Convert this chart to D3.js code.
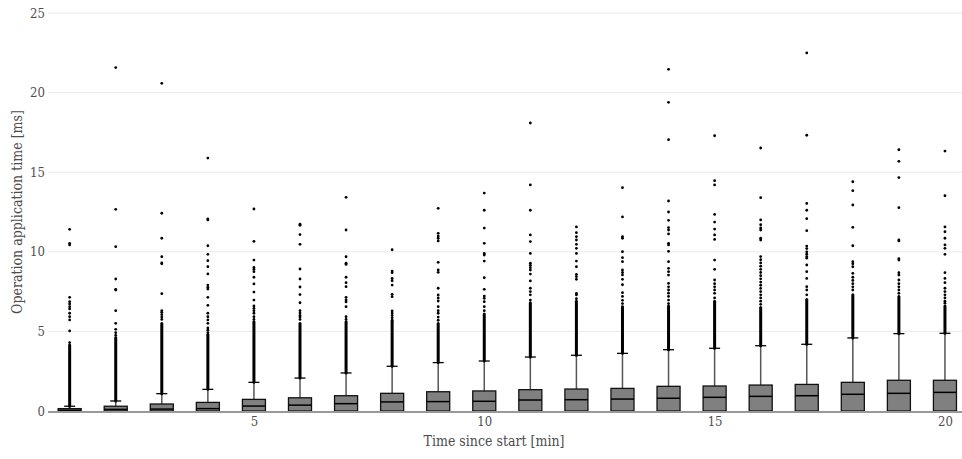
<!DOCTYPE html>
<html>
<head>
<meta charset="utf-8">
<script src="https://cdn.jsdelivr.net/npm/d3@7"></script>
<style>
  body { margin: 0; background: #fff; }
  svg text { font-family: "DejaVu Serif Condensed", "DejaVu Serif", serif; }
</style>
</head>
<body>
<svg id="chart"></svg>
<script>
// minutes since start, one box per minute
const minutes = [1, 2, 3, 4, 5, 6, 7, 8, 9, 10, 11, 12, 13, 14, 15, 16, 17, 18, 19, 20];
const lowerQuartile = [0, 0, 0, 0, 0, 0, 0, 0, 0, 0, 0, 0, 0, 0, 0, 0, 0, 0, 0, 0];
const medians = [0.05, 0.1, 0.12, 0.15, 0.31, 0.37, 0.46, 0.57, 0.59, 0.61, 0.69, 0.71, 0.75, 0.8, 0.86, 0.92, 0.96, 1.05, 1.11, 1.17];
const upperQuartile = [0.15, 0.3, 0.44, 0.54, 0.73, 0.83, 0.96, 1.11, 1.21, 1.26, 1.34, 1.38, 1.42, 1.55, 1.57, 1.63, 1.67, 1.8, 1.93, 1.93];
const upperWhisker = [0.3, 0.63, 1.09, 1.36, 1.8, 2.07, 2.39, 2.81, 3.04, 3.14, 3.39, 3.5, 3.62, 3.85, 3.94, 4.1, 4.19, 4.59, 4.86, 4.88];
// top of the solid run of overlapping outlier dots above each whisker
const denseOutlierTop = [4.15, 4.6, 5.5, 4.8, 5.6, 5.5, 5.6, 5.7, 5.5, 6.1, 6.8, 6.9, 6.5, 6.6, 6.9, 6.5, 7.0, 7.3, 7.2, 6.6];
// separate outliers above the solid run
const outliers = [
  [11.41, 10.53, 10.43, 7.14, 6.87, 6.72, 6.55, 6.41, 6.14, 5.92, 5.72, 5.03, 4.3],
  [21.57, 12.67, 10.32, 8.29, 7.64, 7.6, 6.3, 5.51, 5.13, 4.92, 4.75],
  [20.58, 12.42, 10.85, 9.69, 9.3, 9.25, 7.37, 6.3, 6.2, 6.05, 5.9, 5.75],
  [15.89, 12.06, 12.0, 10.38, 9.84, 9.44, 9.06, 8.61, 7.91, 7.77, 7.66, 7.14, 6.64, 6.14, 5.92, 5.72, 5.51, 5.22, 5.08, 4.92],
  [12.69, 10.66, 9.48, 9.02, 8.9, 8.75, 8.4, 7.98, 7.47, 6.97, 6.6, 6.45, 6.3, 6.14, 5.92, 5.75],
  [11.73, 11.66, 11.08, 10.47, 8.92, 8.29, 7.79, 7.31, 6.8, 6.3, 6.15, 6.0, 5.9, 5.75],
  [13.42, 11.37, 9.69, 9.28, 9.21, 8.4, 8.06, 7.81, 7.14, 6.98, 6.85, 6.55, 5.92, 5.75],
  [10.13, 8.79, 8.69, 8.33, 8.18, 7.91, 7.33, 7.18, 6.28, 6.15, 6.0, 5.85],
  [12.73, 11.16, 10.99, 10.85, 10.68, 9.34, 8.86, 8.71, 7.71, 7.29, 7.1, 6.91, 6.55, 6.3, 6.14, 5.9, 5.7],
  [13.69, 12.61, 11.49, 10.53, 9.9, 9.8, 9.42, 8.37, 7.64, 7.22, 7.08, 6.87, 6.55, 6.3],
  [18.09, 14.2, 12.61, 11.06, 10.64, 9.9, 9.28, 9.15, 9.0, 8.85, 8.6, 8.17, 7.71, 7.5, 7.3, 6.97],
  [11.56, 11.2, 10.95, 10.74, 10.47, 10.22, 9.9, 9.42, 9.06, 8.58, 8.44, 8.27, 7.39, 7.29, 7.05],
  [14.03, 12.19, 10.95, 10.85, 10.01, 9.63, 9.38, 8.86, 8.7, 8.55, 8.27, 7.93, 7.43, 7.2, 6.95, 6.75, 6.55],
  [21.46, 19.39, 17.04, 13.19, 12.5, 11.98, 11.52, 11.37, 11.12, 10.53, 10.43, 10.03, 9.38, 8.96, 8.75, 8.54, 8.02, 7.8, 7.6, 7.4, 7.2, 6.97, 6.75],
  [17.29, 14.47, 14.2, 12.35, 11.87, 11.43, 11.06, 10.78, 9.48, 8.9, 8.23, 8.0, 7.8, 7.6, 7.39, 7.1],
  [16.52, 13.4, 12.0, 11.7, 11.5, 11.37, 10.85, 10.74, 9.7, 9.5, 9.3, 9.1, 8.9, 8.7, 8.5, 8.3, 8.1, 7.9, 7.7, 7.5, 7.3, 7.1, 6.9, 6.7],
  [22.49, 17.32, 13.04, 12.61, 12.08, 11.33, 10.36, 10.2, 10.0, 9.85, 9.7, 9.6, 9.17, 8.75, 8.33, 7.81, 7.6, 7.3],
  [14.4, 13.84, 12.94, 11.54, 10.38, 9.38, 9.25, 9.06, 8.65, 8.4, 8.2, 8.0, 7.8, 7.6],
  [16.41, 15.68, 14.66, 12.77, 10.74, 10.68, 9.57, 9.48, 8.69, 8.54, 8.23, 8.0, 7.8, 7.6, 7.39],
  [16.33, 13.52, 11.56, 11.26, 10.85, 10.43, 10.22, 9.84, 8.69, 8.33, 8.06, 7.71, 7.5, 7.3, 7.1, 6.9, 6.77]
];
const xTicks = [5, 10, 15, 20];
const yTicks = [0, 5, 10, 15, 20, 25];

const width = 962, height = 459;
const margin = {top: 13, right: 0, bottom: 48, left: 48};

const svg = d3.select("#chart")
  .attr("width", width)
  .attr("height", height);

const x = d3.scaleLinear().domain([0.53, 20.37]).range([margin.left, width - margin.right]);
const y = d3.scaleLinear().domain([0, 25]).range([height - margin.bottom, margin.top]);

const boxWidth = x(1.5) - x(1);
const capWidth = 11;

// grid lines
svg.append("g")
  .selectAll("line")
  .data(yTicks.filter(d => d > 0))
  .join("line")
  .attr("x1", margin.left)
  .attr("x2", width - margin.right)
  .attr("y1", d => y(d))
  .attr("y2", d => y(d))
  .attr("stroke", "#ebebeb")
  .attr("stroke-width", 1);

// y axis labels
svg.append("g")
  .call(d3.axisLeft(y).tickValues(yTicks).tickSize(0).tickPadding(3))
  .attr("transform", "translate(" + margin.left + ",0)")
  .call(g => g.select(".domain").remove())
  .selectAll("text")
  .attr("fill", "#4d4d4d")
  .style("font-size", "13px");

// x axis labels
svg.append("g")
  .attr("transform", "translate(0," + y(0) + ")")
  .call(d3.axisBottom(x).tickValues(xTicks).tickSize(0).tickPadding(6))
  .call(g => g.select(".domain").remove())
  .selectAll("text")
  .attr("fill", "#4d4d4d")
  .style("font-size", "13px");

const stats = minutes.map((m, i) => ({
  minute: m,
  q1: lowerQuartile[i],
  median: medians[i],
  q3: upperQuartile[i],
  hi: upperWhisker[i],
  dense: denseOutlierTop[i],
  points: outliers[i]
}));

const boxes = svg.append("g")
  .selectAll("g")
  .data(stats)
  .join("g");

// whisker
boxes.append("line")
  .attr("x1", d => x(d.minute))
  .attr("x2", d => x(d.minute))
  .attr("y1", d => y(d.q3))
  .attr("y2", d => y(d.hi))
  .attr("stroke", "#555")
  .attr("stroke-width", 1.5);

// solid run of outliers
boxes.append("line")
  .attr("x1", d => x(d.minute))
  .attr("x2", d => x(d.minute))
  .attr("y1", d => y(d.hi))
  .attr("y2", d => y(d.dense))
  .attr("stroke", "#000")
  .attr("stroke-width", 3)
  .attr("stroke-linecap", "round");

// whisker cap
boxes.append("line")
  .attr("x1", d => x(d.minute) - capWidth / 2)
  .attr("x2", d => x(d.minute) + capWidth / 2)
  .attr("y1", d => y(d.hi))
  .attr("y2", d => y(d.hi))
  .attr("stroke", "#000")
  .attr("stroke-width", 1.3);

// box
boxes.append("rect")
  .attr("x", d => x(d.minute) - boxWidth / 2)
  .attr("width", boxWidth)
  .attr("y", d => y(d.q3))
  .attr("height", d => y(d.q1) - y(d.q3))
  .attr("fill", "#808080")
  .attr("stroke", "#111")
  .attr("stroke-width", 1.3);

// median
boxes.append("line")
  .attr("x1", d => x(d.minute) - boxWidth / 2)
  .attr("x2", d => x(d.minute) + boxWidth / 2)
  .attr("y1", d => y(d.median))
  .attr("y2", d => y(d.median))
  .attr("stroke", "#000")
  .attr("stroke-width", 1.5);

// outlier dots
boxes.selectAll("circle")
  .data(d => d.points.map(v => ({minute: d.minute, value: v})))
  .join("circle")
  .attr("cx", d => x(d.minute))
  .attr("cy", d => y(d.value))
  .attr("r", 1.4)
  .attr("fill", "#000");

// zero line
svg.append("line")
  .attr("x1", margin.left)
  .attr("x2", width - margin.right)
  .attr("y1", y(0) + 1)
  .attr("y2", y(0) + 1)
  .attr("stroke", "#999")
  .attr("stroke-width", 2);

// axis titles
svg.append("text")
  .attr("x", 494)
  .attr("y", 446)
  .attr("text-anchor", "middle")
  .attr("fill", "#4d4d4d")
  .style("font-size", "14px")
  .text("Time since start [min]");

svg.append("text")
  .attr("transform", "translate(22," + 212 + ") rotate(-90)")
  .attr("text-anchor", "middle")
  .attr("fill", "#4d4d4d")
  .style("font-size", "14px")
  .text("Operation application time [ms]");
</script>
</body>
</html>
